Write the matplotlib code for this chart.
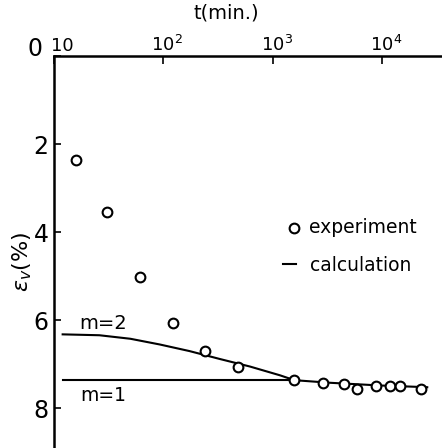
import matplotlib
matplotlib.use("Agg")
import matplotlib.pyplot as plt
from matplotlib.transforms import ScaledTranslation

# experiment (open circles)
t_exp = [16, 30.5, 61, 123, 240, 480, 1580, 2900, 4500, 5900, 8900, 11800, 14800, 22700]
ev_exp = [2.36, 3.55, 5.02, 6.07, 6.70, 7.07, 7.36, 7.42, 7.45, 7.55, 7.50, 7.50, 7.50, 7.55]

# calculation, m=2 curve
t_m2 = [12, 26, 50, 93, 174, 330, 620, 1170, 1580, 3400, 9500, 26000]
ev_m2 = [6.32, 6.34, 6.42, 6.55, 6.70, 6.88, 7.05, 7.25, 7.36, 7.42, 7.48, 7.52]

# calculation, m=1 line
t_m1 = [12, 1580]
ev_m1 = [7.35, 7.35]

x_ticks = [10, 100, 1000, 10000]
x_labels = ["10", r"10$^2$", r"10$^3$", r"10$^4$"]
y_ticks = [0, 2, 4, 6, 8]
y_labels = ["", "2", "4", "6", "8"]

plt.rcParams["font.family"] = "DejaVu Sans"

fig = plt.figure(figsize=(4.42, 4.48), dpi=100)
ax = fig.add_axes([54 / 442, 0, 388 / 442, 392 / 448])

ax.plot(t_m2, ev_m2, color="black", lw=1.5)
ax.plot(t_m1, ev_m1, color="black", lw=1.5)
ax.plot(t_exp, ev_exp, "o", mfc="white", mec="black", mew=1.5, ms=7)

ax.set_xscale("log")
ax.set_xlim(10, 10 ** 4.55)
ax.set_ylim(8.9, 0)

for s in ("right", "bottom"):
    ax.spines[s].set_visible(False)
for s in ("top", "left"):
    ax.spines[s].set_linewidth(1.8)

ax.xaxis.set_ticks_position("top")
ax.set_xticks(x_ticks)
ax.set_xticklabels(x_labels, fontsize=13)
ax.xaxis.set_minor_locator(matplotlib.ticker.NullLocator())
ax.tick_params(axis="x", direction="in", length=6, width=1.2, pad=1)

# the "10" base sits over the tick, the exponent hangs to the right
for i, lab in enumerate(ax.get_xticklabels()):
    dx = 8 if i == 0 else 4
    lab.set_transform(lab.get_transform()
                      + ScaledTranslation(dx / 100, 0, fig.dpi_scale_trans))

ax.set_yticks(y_ticks)
ax.set_yticklabels(y_labels, fontsize=17)
ax.tick_params(axis="y", direction="in", length=5, width=1.2, pad=4)

# the lone "0" at the corner sits a little above the top spine
ax.text(-0.03, 1.018, "0", transform=ax.transAxes, fontsize=17,
        ha="right", va="center")

# axis titles
fig.text(226 / 442, 1 - 13 / 448, "t(min.)", fontsize=14,
         ha="center", va="center")
fig.text(22 / 442, 1 - 262 / 448, r"$\epsilon_v(\%)$", fontsize=16,
         rotation=90, ha="center", va="center")

ax.text(28, 6.28, "m=2", fontsize=14, ha="center", va="bottom")
ax.text(28, 7.5, "m=1", fontsize=13.5, ha="center", va="top")

# legend drawn by hand
ax.plot([1570], [3.9], "o", mfc="white", mec="black", mew=1.5, ms=7)
ax.text(2150, 3.9, "experiment", fontsize=13.5, ha="left", va="center")
ax.plot([1245, 1650], [4.72, 4.72], color="black", lw=1.5)
ax.text(2200, 4.75, "calculation", fontsize=13.5, ha="left", va="center")

fig.savefig("out.png", dpi=100)
